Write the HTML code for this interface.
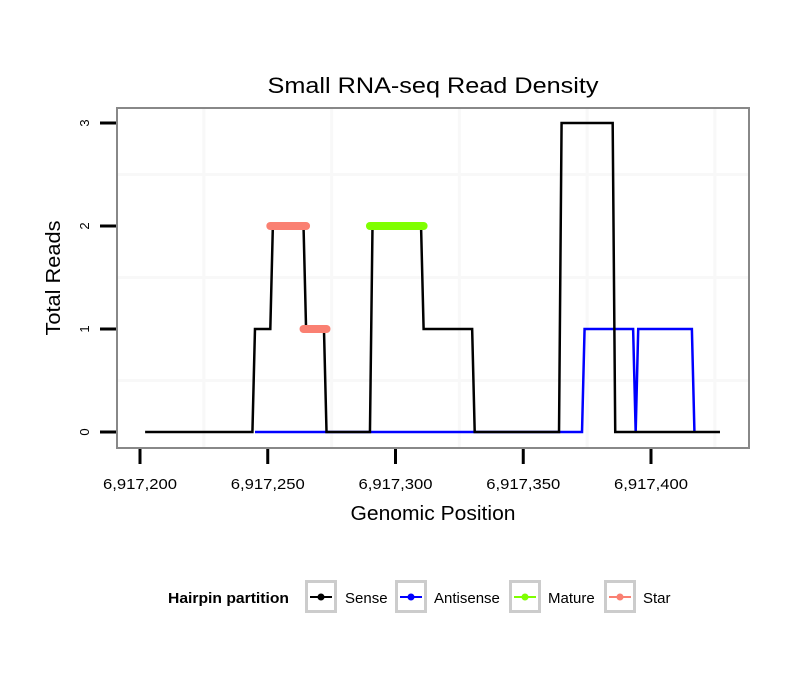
<!DOCTYPE html>
<html><head><meta charset="utf-8"><style>
body{margin:0;background:#fff;}
svg text{font-family:"Liberation Sans",sans-serif;}
</style></head><body>
<svg id="chart" width="810" height="690" xmlns="http://www.w3.org/2000/svg">
<rect width="810" height="690" fill="#fff"/>
<text x="433" y="93" font-size="22" text-anchor="middle" textLength="331" lengthAdjust="spacingAndGlyphs">Small RNA-seq Read Density</text>
<g id="grid"></g>
<g id="series"></g>
<rect x="117" y="108" width="632" height="340" fill="none" stroke="#888" stroke-width="2"/>
<g id="axes"></g>
<text x="433" y="520" font-size="20" text-anchor="middle" textLength="165" lengthAdjust="spacingAndGlyphs">Genomic Position</text>
<text transform="translate(60,278) rotate(-90)" font-size="20" text-anchor="middle" textLength="115" lengthAdjust="spacingAndGlyphs">Total Reads</text>
<g>
<text x="168" y="603" font-size="15" font-weight="bold" textLength="121" lengthAdjust="spacingAndGlyphs">Hairpin partition</text>
<g id="legend-items"></g>
</g>
</svg>
<script>
const xTicks=[6917200,6917250,6917300,6917350,6917400];
const xTickLabels=["6,917,200","6,917,250","6,917,300","6,917,350","6,917,400"];
const yTicks=[0,1,2,3];
const yTickLabels=["0","1","2","3"];
const senseX=[6917202,6917244,6917245,6917251,6917252,6917264,6917265,6917272,6917273,6917290,6917291,6917310,6917311,6917330,6917331,6917364,6917365,6917385,6917386,6917427];
const senseY=[0,0,1,1,2,2,1,1,0,0,2,2,1,1,0,0,3,3,0,0];
const antiX=[6917245,6917373,6917374,6917393,6917394,6917395,6917416,6917417];
const antiY=[0,0,1,1,0,1,1,0];
const matureX=[6917290,6917311];
const matureY=[2,2];
const star1X=[6917251,6917265];
const star1Y=[2,2];
const star2X=[6917264,6917273];
const star2Y=[1,1];
const legendNames=["Sense","Antisense","Mature","Star"];
const legendColors=["#000000","#0000ff","#7fff00","#fa8072"];

const NS="http://www.w3.org/2000/svg";
const X=v=>140+(v-6917200)*(511/200);
const Y=v=>432-v*103;
function mk(tag,attrs,parent){const e=document.createElementNS(NS,tag);for(const k in attrs)e.setAttribute(k,attrs[k]);parent.appendChild(e);return e;}
const grid=document.getElementById('grid'),series=document.getElementById('series'),axes=document.getElementById('axes');
for(let i=0;i<5;i++){const gx=6917225+i*50;
 const l=mk('line',{x1:X(gx),x2:X(gx),y1:109,y2:447,stroke:'#f8f8f8','stroke-width':3},grid);
 
 }
for(let i=0;i<3;i++){const gy=0.5+i;
 const l=mk('line',{x1:118,x2:748,y1:Y(gy),y2:Y(gy),stroke:'#f8f8f8','stroke-width':3},grid);
 
 }
function path(xs,ys,color,w,name){
 const d=xs.map((v,i)=>(i?'L':'M')+X(v)+' '+Y(ys[i])).join(' ');
 const p=mk('path',{d:d,fill:'none',stroke:color,'stroke-width':w,'stroke-linecap':w>3?'round':'butt','stroke-linejoin':'miter'},series);
 
 }
path(antiX,antiY,'#0000ff',2.5,'antisense-line');
path(senseX,senseY,'#000000',2.5,'sense-line');
path(matureX,matureY,'#7fff00',8,'mature-segment');
path(star1X,star1Y,'#fa8072',8,'star-segment-1');
path(star2X,star2Y,'#fa8072',8,'star-segment-2');
xTicks.forEach((t,i)=>{
 const l=mk('line',{x1:X(t),x2:X(t),y1:449,y2:464,stroke:'#000','stroke-width':3},axes);
 
 
 const tx=mk('text',{x:X(t),y:489,'font-size':15,'text-anchor':'middle',textLength:74,lengthAdjust:'spacingAndGlyphs'},axes);tx.textContent=xTickLabels[i];
 
 });
yTicks.forEach((t,i)=>{
 const l=mk('line',{x1:100,x2:116,y1:Y(t),y2:Y(t),stroke:'#000','stroke-width':3},axes);
 
 
 const tx=mk('text',{transform:`translate(89,${Y(t)}) rotate(-90)`,'font-size':13,'text-anchor':'middle'},axes);tx.textContent=yTickLabels[i];
 
 });
const li=document.getElementById('legend-items');
const boxX=[305,395,509,604],textX=[345,434,548,643];
legendNames.forEach((n,i)=>{
 const g=mk('g',{},li);
 
 
 mk('rect',{x:boxX[i]+1.5,y:581.5,width:29,height:30,fill:'#fff',stroke:'#ccc','stroke-width':3},g);
 mk('line',{x1:boxX[i]+5,x2:boxX[i]+27,y1:597,y2:597,stroke:legendColors[i],'stroke-width':2},g);
 mk('circle',{cx:boxX[i]+16,cy:597,r:3.5,fill:legendColors[i]},g);
 const t=mk('text',{x:textX[i],y:603,'font-size':15},g);t.textContent=n;});
</script>
</body></html>
